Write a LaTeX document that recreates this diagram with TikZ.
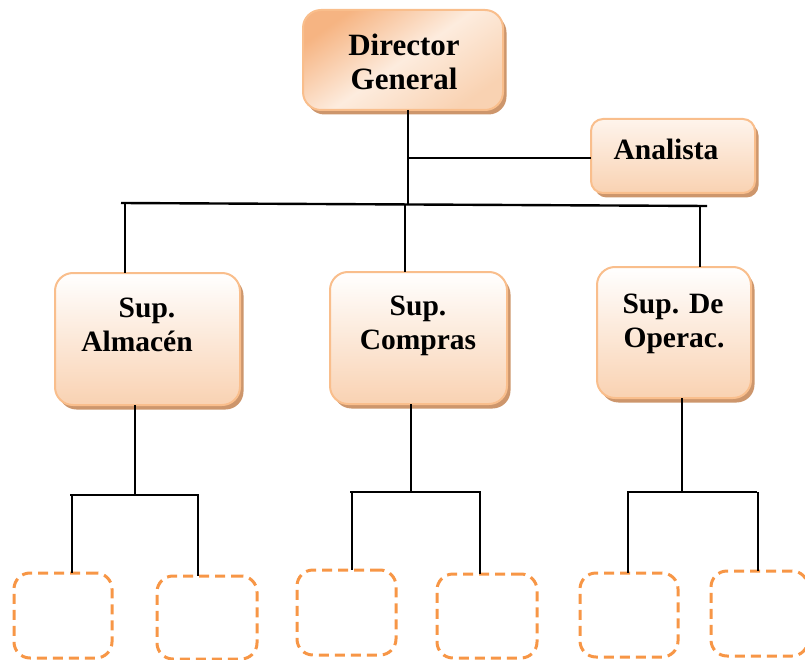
\documentclass[tikz,border=0pt]{standalone}
\usepackage{fontspec}
\setmainfont{Liberation Serif}
\usetikzlibrary{shadows}
\definecolor{peach}{RGB}{249,210,178}
\definecolor{peachlight}{RGB}{254,244,236}
\definecolor{dirorange}{RGB}{246,180,130}
\definecolor{dirmid}{RGB}{253,236,222}
\definecolor{edgeor}{RGB}{249,190,140}
\definecolor{shadowc}{RGB}{205,150,108}
\definecolor{dashor}{RGB}{247,150,70}
\tikzset{
  box/.style={rectangle, rounded corners=18pt, draw=edgeor, line width=2pt,
    inner sep=0pt, outer sep=0pt,
    drop shadow={shadow xshift=3.5pt, shadow yshift=-4.5pt, fill=shadowc, opacity=1}},
  supbox/.style={box, top color=white, bottom color=peach},
  dirbox/.style={box, left color=dirorange, right color=peach, middle color=dirmid, shading angle=35},
  anabox/.style={box, rounded corners=12pt, top color=peachlight, bottom color=peach},
  emptybox/.style={rectangle, rounded corners=16pt, draw=dashor, line width=3pt,
    dash pattern=on 10pt off 6pt, inner sep=0pt, outer sep=0pt},
  lbl/.style={font=\fontsize{29.5}{34}\selectfont\bfseries, inner sep=0pt, anchor=base},
  dirlbl/.style={lbl, font=\fontsize{31}{34}\selectfont\bfseries},
  conn/.style={draw=black, line width=2.4pt}
}
\begin{document}
\begin{tikzpicture}[x=1pt, y=-1pt]
\useasboundingbox (0,0) rectangle (805,660);
% main boxes
\node[dirbox, minimum width=200pt, minimum height=100pt] (dir) at (403,60) {};
\node[anabox, minimum width=164pt, minimum height=74pt] (ana) at (673,156) {};
\node[supbox, minimum width=185pt, minimum height=132pt] (alm) at (147.5,339) {};
\node[supbox, minimum width=177pt, minimum height=132pt] (com) at (418.5,338) {};
\node[supbox, minimum width=154pt, minimum height=131pt] (ope) at (674,332.5) {};
% labels
\node[dirlbl] (dirA) at (404,56) {Director};
\node[dirlbl] (dirB) at (404,90) {General};
\node[lbl] (anaA) at (666,160) {Analista};
\node[lbl] (almA) at (147,317) {Sup.};
\node[lbl] (almB) at (137,351) {Almacén};
\node[lbl] (comA) at (418,315) {Sup.};
\node[lbl] (comB) at (418,349) {Compras};
\node[lbl] (opeA) at (673,313) {Sup. De};
\node[lbl] (opeB) at (674,347) {Operac.};
% empty boxes
\node[emptybox, minimum width=98pt, minimum height=85pt] (e1) at (63,615.5) {};
\node[emptybox, minimum width=100pt, minimum height=83pt] (e2) at (207,617.5) {};
\node[emptybox, minimum width=99pt, minimum height=85pt] (e3) at (346.5,612.5) {};
\node[emptybox, minimum width=100pt, minimum height=84pt] (e4) at (487,616) {};
\node[emptybox, minimum width=98pt, minimum height=84pt] (e5) at (629,615) {};
\node[emptybox, minimum width=97pt, minimum height=85pt] (e6) at (759.5,613.5) {};
% coordinates
\coordinate (j0) at (408,204);
\coordinate (a0) at (408,158);
\coordinate (busL) at (121,203);
\coordinate (busR) at (707,206);
\coordinate (b1) at (125,204);
\coordinate (b2) at (405,205);
\coordinate (b3) at (700,206);
\coordinate (s1) at (135,495);
\coordinate (s1L) at (70,495);
\coordinate (s1R) at (199,495);
\coordinate (s2) at (411,492);
\coordinate (s2L) at (350,492);
\coordinate (s2R) at (481,492);
\coordinate (s3) at (682,492);
\coordinate (s3L) at (627,492);
\coordinate (s3R) at (757,492);
% connectors
\draw[conn] (dir.south -| j0) -- (j0);
\draw[conn] (a0) -- (a0 -| ana.west);
\draw[conn] (busL) -- (busR);
\draw[conn] (b1) -- (b1 |- alm.north);
\draw[conn] (b2) -- (b2 |- com.north);
\draw[conn] (b3) -- (b3 |- ope.north);
\draw[conn] (alm.south -| s1) -- (s1);
\draw[conn] (s1L) -- (s1R);
\draw[conn] (72,495) -- (72,495 |- e1.north);
\draw[conn] (198,495) -- (198,495 |- e2.north);
\draw[conn] (com.south -| s2) -- (s2);
\draw[conn] (s2L) -- (s2R);
\draw[conn] (352,492) -- (352,492 |- e3.north);
\draw[conn] (480,492) -- (480,492 |- e4.north);
\draw[conn] (ope.south -| s3) -- (s3);
\draw[conn] (s3L) -- (s3R);
\draw[conn] (628,492) -- (628,492 |- e5.north);
\draw[conn] (758,492) -- (758,492 |- e6.north);
\end{tikzpicture}
\end{document}
